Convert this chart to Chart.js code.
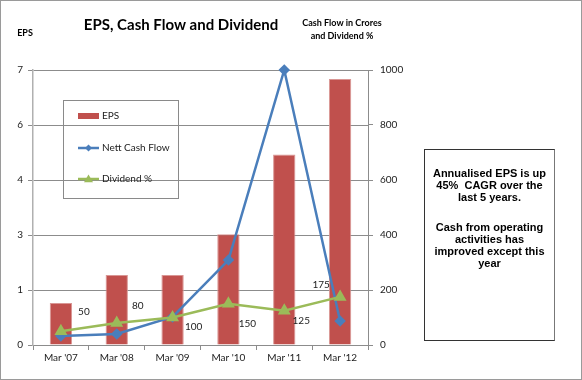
<!DOCTYPE html>
<html>
<head>
<meta charset="utf-8">
<script src="https://cdn.jsdelivr.net/npm/chart.js@4"></script>
<style>
  body { margin: 0; background: #fff; }
  #wrap { position: relative; width: 582px; height: 380px; box-sizing: border-box; border: 1px solid #9a9a9a; }
  #Chart_1 { position: absolute; left: -1px; top: -1px; }
  #note {
    position: absolute; left: 423px; top: 148px; width: 131px; height: 192px;
    box-sizing: border-box; border: 1px solid #333; border-right-color: #777;
    font: bold 11px "Liberation Sans", Arial, sans-serif; line-height: 12px;
    text-align: center; color: #000; padding-top: 17px;
  }
  #note p { margin: 0; }
  #note p + p { margin-top: 18px; }
</style>
</head>
<body>
<div id="wrap">
  <canvas id="Chart_1" width="582" height="380"></canvas>
  <div id="note">
    <p>Annualised EPS is up<br>45%&nbsp; CAGR over the<br>last 5 years.</p>
    <p>Cash from operating<br>activities has<br>improved except this<br>year</p>
  </div>
</div>
<script>
var categories = ["Mar '07", "Mar '08", "Mar '09", "Mar '10", "Mar '11", "Mar '12"];
var eps = [1.07, 1.78, 1.78, 2.82, 4.85, 6.77];
var cashFlow = [33, 40, 102, 309, 1000, 87];
var dividend = [50, 80, 100, 150, 125, 175];
var epsTickLabels = ['0', '1', '3', '4', '6', '7'];

var font = 'Lato, "Open Sans", sans-serif';

// where each dividend label sits relative to its point
var labelOffsets = [[23, -19], [21, -17], [21, 9], [19, 20], [17, 10], [-19, -12]];

function diamond(c, x, y, r) {
    c.beginPath();
    c.moveTo(x, y - r); c.lineTo(x + r, y); c.lineTo(x, y + r); c.lineTo(x - r, y);
    c.closePath(); c.fill();
}
function triangle(c, x, y, r) {
    c.beginPath();
    c.moveTo(x, y - r); c.lineTo(x + r, y + r * 0.7); c.lineTo(x - r, y + r * 0.7);
    c.closePath(); c.fill();
}

var overlay = {
    id: 'overlay',
    afterDatasetsDraw: function (chart) {
        var c = chart.ctx;
        var meta = chart.getDatasetMeta(2);
        c.save();
        c.font = '10px ' + font;
        c.fillStyle = '#222';
        c.textAlign = 'center';
        c.textBaseline = 'middle';
        meta.data.forEach(function (pt, i) {
            c.fillText(String(dividend[i]), pt.x + labelOffsets[i][0], pt.y + labelOffsets[i][1]);
        });
        c.restore();
    },
    afterDraw: function (chart) {
        var c = chart.ctx;
        c.save();
        c.fillStyle = '#000';
        c.textAlign = 'center';
        c.textBaseline = 'middle';
        c.font = 'bold 15px ' + font;
        c.fillText('EPS, Cash Flow and Dividend', 181, 25);
        c.font = 'bold 9px ' + font;
        c.fillText('EPS', 25, 33);
        c.fillText('Cash Flow in Crores', 342, 23);
        c.fillText('and Dividend %', 342, 36);

        // legend box
        c.strokeStyle = '#8a8a8a';
        c.lineWidth = 1;
        c.strokeRect(63.5, 100.5, 115, 98);
        c.font = '10px ' + font;
        c.textAlign = 'left';
        c.fillStyle = '#C0504D';
        c.fillRect(78, 113, 21, 6);
        c.strokeStyle = '#4A7EBB';
        c.lineWidth = 2.5;
        c.beginPath(); c.moveTo(78, 148); c.lineTo(99, 148); c.stroke();
        c.fillStyle = '#4A7EBB';
        diamond(c, 88.5, 148, 3.5);
        c.strokeStyle = '#9BBB59';
        c.beginPath(); c.moveTo(78, 179); c.lineTo(99, 179); c.stroke();
        c.fillStyle = '#9BBB59';
        triangle(c, 88.5, 179, 4.5);
        c.fillStyle = '#222';
        c.fillText('EPS', 102, 116);
        c.fillText('Nett Cash Flow', 102, 148);
        c.fillText('Dividend %', 102, 179);
        c.restore();
    }
};

var ctx = document.getElementById('Chart_1');
var chart = new Chart(ctx, {
    type: 'bar',
    data: {
        labels: categories,
        datasets: [{
            label: 'EPS',
            data: eps,
            backgroundColor: '#C0504D',
            borderColor: '#D99694',
            borderWidth: 1,
            barPercentage: 0.4,
            categoryPercentage: 1,
            yAxisID: 'y',
            order: 2
        }, {
            type: 'line',
            label: 'Nett Cash Flow',
            data: cashFlow,
            borderColor: '#4A7EBB',
            backgroundColor: '#4A7EBB',
            borderWidth: 2.5,
            pointStyle: 'rectRot',
            pointRadius: 4,
            clip: false,
            yAxisID: 'y1',
            order: 1
        }, {
            type: 'line',
            label: 'Dividend %',
            data: dividend,
            borderColor: '#9BBB59',
            backgroundColor: '#9BBB59',
            borderWidth: 2.5,
            pointStyle: 'triangle',
            pointRadius: 5,
            clip: false,
            yAxisID: 'y1',
            order: 0
        }]
    },
    options: {
        responsive: false,
        animation: false,
        layout: { padding: { top: 70 } },
        plugins: { legend: { display: false }, tooltip: { enabled: false } },
        scales: {
            x: {
                afterFit: function (s) { s.height = 35; },
                grid: { drawOnChartArea: false, offset: true, tickLength: 5, color: '#8c8c8c' },
                border: { color: '#8c8c8c' },
                ticks: { padding: 2, color: '#222', font: { family: font, size: 10 } }
            },
            y: {
                position: 'left',
                min: 0, max: 7,
                afterFit: function (s) { s.width = 33; },
                afterBuildTicks: function (s) {
                    s.ticks = [0, 1.4, 2.8, 4.2, 5.6, 7].map(function (v) { return { value: v }; });
                },
                grid: { color: '#8c8c8c', tickLength: 5 },
                border: { color: '#b0b0b0', width: 1.5 },
                ticks: {
                    padding: 5, color: '#222', font: { family: font, size: 10 },
                    callback: function (v, i) { return epsTickLabels[i]; }
                }
            },
            y1: {
                position: 'right',
                min: 0, max: 1000,
                afterFit: function (s) { s.width = 214; },
                grid: { drawOnChartArea: false, color: '#8c8c8c', tickLength: 5 },
                border: { color: '#8c8c8c' },
                ticks: {
                    stepSize: 200, padding: 7, color: '#222', font: { family: font, size: 10 },
                    callback: function (v) { return String(v); }
                }
            }
        }
    },
    plugins: [overlay]
});
</script>
</body>
</html>
